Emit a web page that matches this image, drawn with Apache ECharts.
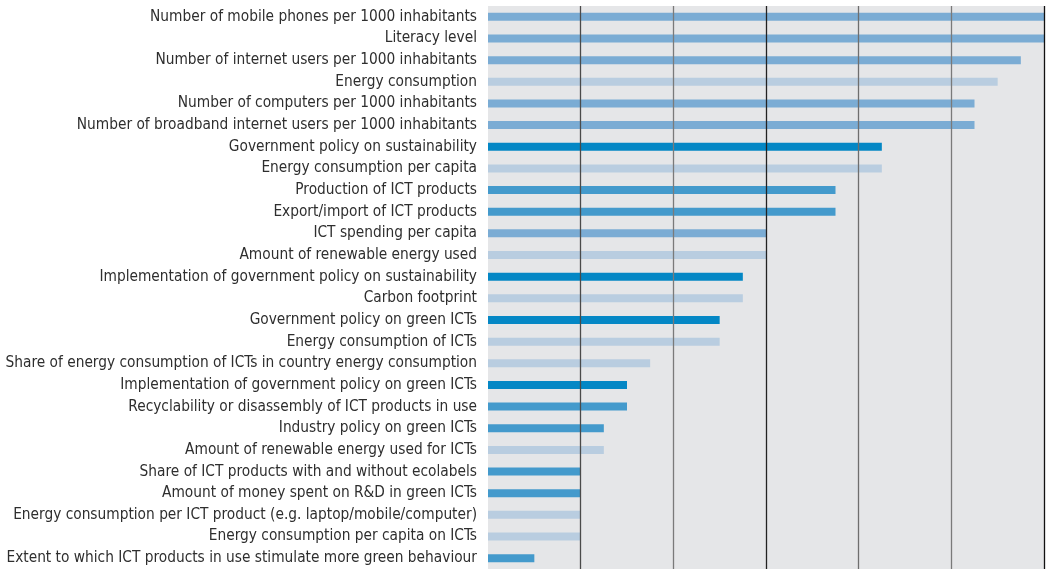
<!DOCTYPE html>
<html>
<head>
<meta charset="utf-8">
<script src="https://cdn.jsdelivr.net/npm/echarts@6/dist/echarts.min.js"></script>
<style>
  html, body { margin: 0; padding: 0; background: #fff; }
  #chart { width: 1053px; height: 569px; }
</style>
</head>
<body>
<div id="chart"></div>
<script>
// indicators, top to bottom
const indicators = [
  'Number of mobile phones per 1000 inhabitants',
  'Literacy level',
  'Number of internet users per 1000 inhabitants',
  'Energy consumption',
  'Number of computers per 1000 inhabitants',
  'Number of broadband internet users per 1000 inhabitants',
  'Government policy on sustainability',
  'Energy consumption per capita',
  'Production of ICT products',
  'Export/import of ICT products',
  'ICT spending per capita',
  'Amount of renewable energy used',
  'Implementation of government policy on sustainability',
  'Carbon footprint',
  'Government policy on green ICTs',
  'Energy consumption of ICTs',
  'Share of energy consumption of ICTs in country energy consumption',
  'Implementation of government policy on green ICTs',
  'Recyclability or disassembly of ICT products in use',
  'Industry policy on green ICTs',
  'Amount of renewable energy used for ICTs',
  'Share of ICT products with and without ecolabels',
  'Amount of money spent on R&D in green ICTs',
  'Energy consumption per ICT product (e.g. laptop/mobile/computer)',
  'Energy consumption per capita on ICTs',
  'Extent to which ICT products in use stimulate more green behaviour'
]

const scores = [
  6, 6, 5.75, 5.5, 5.25, 5.25, 4.25, 4.25, 3.75, 3.75,
  3, 3, 2.75, 2.75, 2.5, 2.5, 1.75, 1.5, 1.5, 1.25,
  1.25, 1, 1, 1, 1, 0.5
]

// which shade each bar uses (0 medium, 1 light, 2 dark, 3 bright)
const shades = [
  0, 0, 0, 1, 0, 0, 2, 1, 3, 3,
  0, 1, 2, 1, 2, 1, 1, 2, 3, 3,
  1, 3, 3, 1, 1, 3
]

const palette = ['#7bacd4', '#b9cde0', '#0487c5', '#449acc']

const chart = echarts.init(document.getElementById('chart'))

chart.setOption({
  animation: false,
  grid: {
    left: 488,
    right: 9,
    top: 6,
    bottom: 0,
    outerBoundsMode: 'none',
    containLabel: false,
    show: true,
    backgroundColor: '#e5e6e8',
    borderWidth: 0
  },
  xAxis: {
    type: 'value',
    min: 0,
    max: 6,
    interval: 1,
    z: 5,
    axisLine: { show: false },
    axisTick: { show: false },
    axisLabel: { show: false },
    splitLine: {
      show: true,
      lineStyle: {
        width: 1.3,
        color: ['rgba(0,0,0,0)', '#4a4a4a', '#7a7a7a', '#222222', '#6e6e6e', '#7a7a7a', '#111111']
      }
    }
  },
  yAxis: {
    type: 'category',
    inverse: true,
    data: indicators,
    axisLine: { show: false },
    axisTick: { show: false },
    axisLabel: {
      margin: 11,
      color: '#2e2e2e',
      fontSize: 15.3,
      fontFamily: '"DejaVu Sans Condensed", sans-serif'
    }
  },
  series: [{
    type: 'bar',
    barWidth: 8,
    data: scores.map((v, i) => ({
      value: v,
      itemStyle: { color: palette[shades[i]] }
    }))
  }]
})
</script>
</body>
</html>
